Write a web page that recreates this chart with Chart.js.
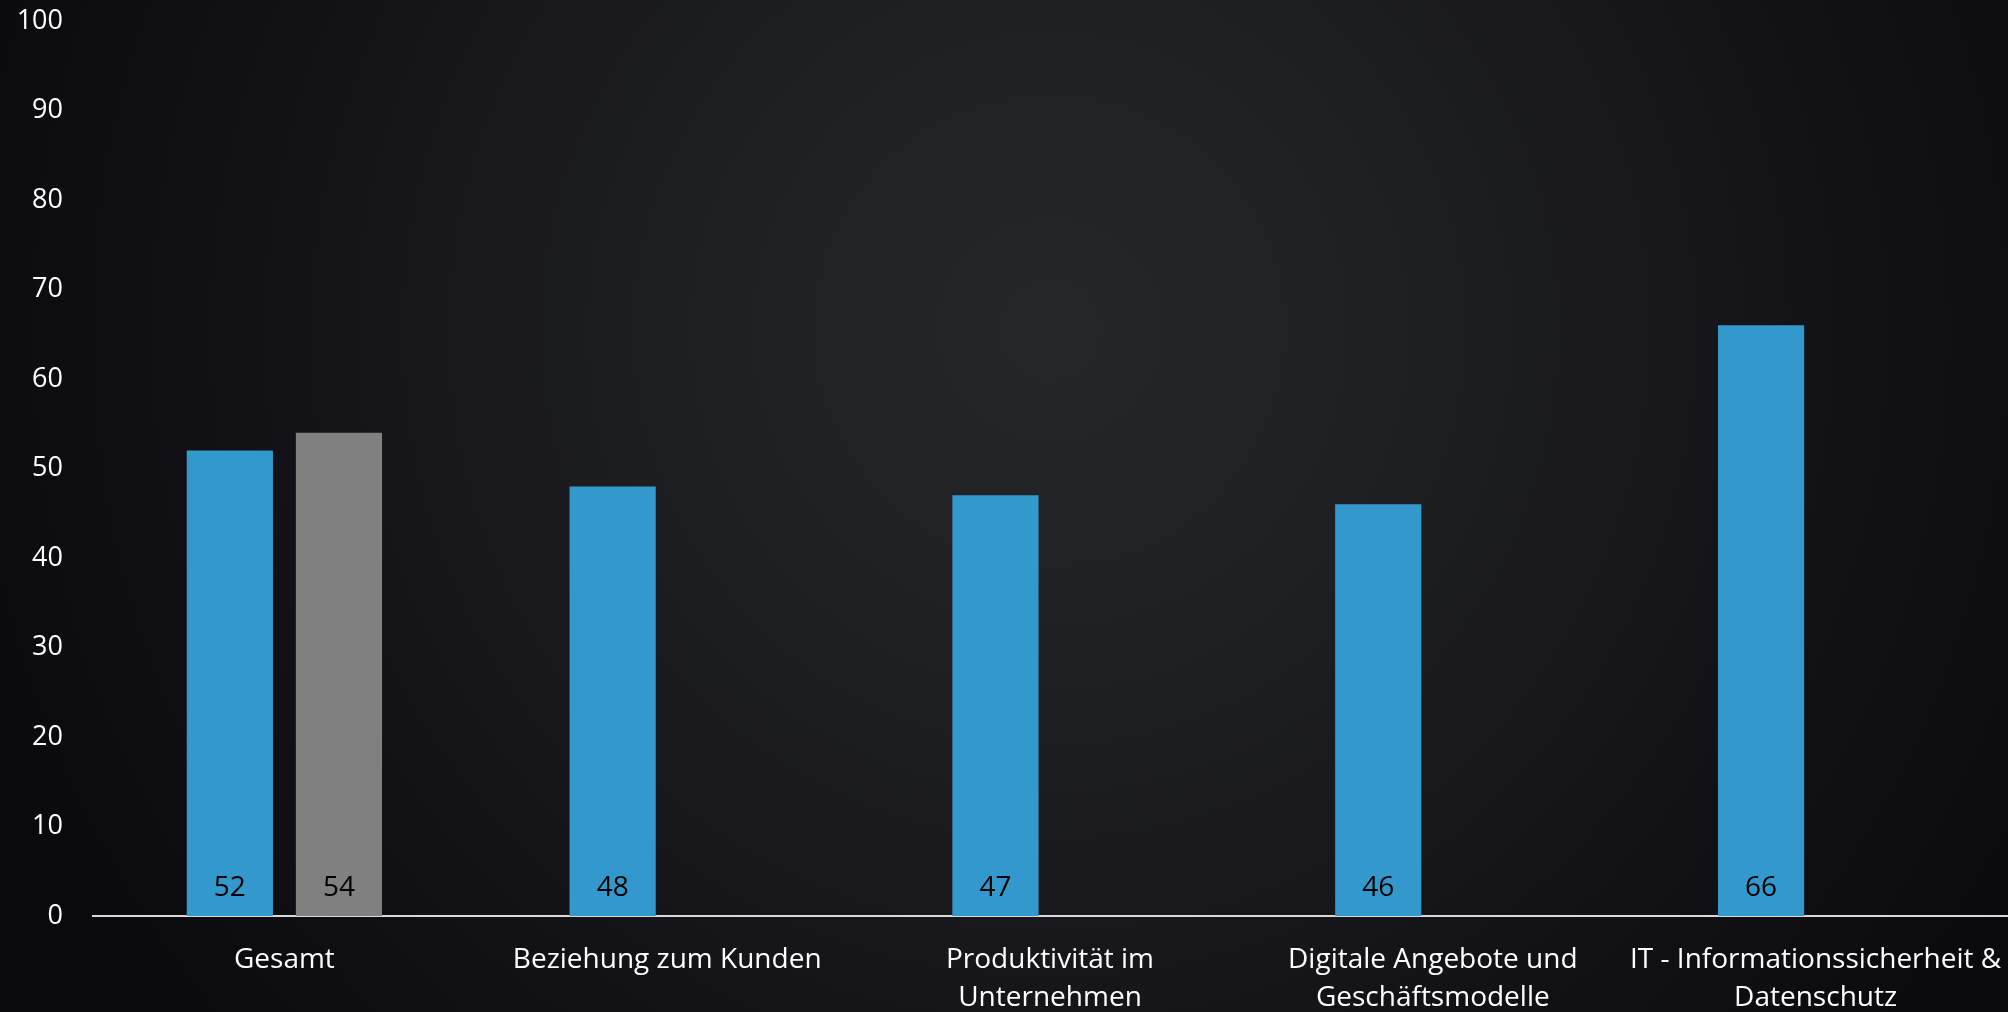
<!DOCTYPE html>
<html>
<head>
<meta charset="utf-8">
<script src="https://cdn.jsdelivr.net/npm/chart.js@4.4.1/dist/chart.umd.min.js"></script>
<style>
  html, body { margin: 0; padding: 0; background: #0b0b0f; }
  #c { display: block; }
</style>
</head>
<body>
<canvas id="c" width="2008" height="1012"></canvas>
<script>
const categories = [
  ["Gesamt"],
  ["Beziehung zum Kunden"],
  ["Produktivität im", "Unternehmen"],
  ["Digitale Angebote und", "Geschäftsmodelle"],
  ["IT - Informationssicherheit &", "Datenschutz"]
];
const seriesBlue = [52, 48, 47, 46, 66];
const seriesGrey = [54, null, null, null, null];
const yMin = 0;
const yMax = 100;
const yStep = 10;

const FONT = "'Open Sans', 'DejaVu Sans', sans-serif";

const bgPlugin = {
  id: 'bg',
  beforeDraw(chart) {
    const ctx = chart.ctx;
    const w = chart.width, h = chart.height;
    ctx.save();
    const g = ctx.createRadialGradient(1050, 330, 0, 1050, 330, 1150);
    g.addColorStop(0, '#26272b');
    g.addColorStop(0.35, '#1d1e22');
    g.addColorStop(0.7, '#121216');
    g.addColorStop(1, '#0a0a0e');
    ctx.fillStyle = g;
    ctx.fillRect(0, 0, w, h);
    ctx.restore();
  }
};

const valueLabels = {
  id: 'valueLabels',
  afterDatasetsDraw(chart) {
    const ctx = chart.ctx;
    const yScale = chart.scales.y;
    const base = yScale.getPixelForValue(0);
    ctx.save();
    ctx.font = '28px ' + FONT;
    ctx.fillStyle = '#000000';
    ctx.textAlign = 'center';
    ctx.textBaseline = 'middle';
    chart.data.datasets.forEach((ds, di) => {
      const meta = chart.getDatasetMeta(di);
      meta.data.forEach((el, i) => {
        const v = ds.data[i];
        if (v === null || v === undefined) return;
        ctx.fillText(String(v), el.x, base - 28);
      });
    });
    ctx.restore();
  }
};

new Chart(document.getElementById('c'), {
  type: 'bar',
  data: {
    labels: categories,
    datasets: [
      {
        label: 'A',
        data: seriesBlue,
        backgroundColor: '#3399cc',
        categoryPercentage: 0.57,
        barPercentage: 0.79
      },
      {
        label: 'B',
        data: seriesGrey,
        backgroundColor: '#808080',
        categoryPercentage: 0.57,
        barPercentage: 0.79
      }
    ]
  },
  options: {
    responsive: false,
    animation: false,
    devicePixelRatio: 1,
    layout: { padding: { top: 21, right: 1, left: 0, bottom: 0 } },
    plugins: {
      legend: { display: false },
      tooltip: { enabled: false }
    },
    scales: {
      x: {
        grid: { display: false, drawTicks: false },
        border: { display: true, color: '#d9d9d9', width: 2 },
        ticks: {
          color: '#ffffff',
          font: { family: FONT, size: 28, lineHeight: 1.35 },
          padding: 25,
          maxRotation: 0,
          autoSkip: false
        },
        afterFit(scale) {
          scale.height = 96;
          scale.paddingLeft = 0;
          scale.paddingRight = 0;
        }
      },
      y: {
        min: yMin,
        max: yMax,
        grid: { display: false, drawTicks: false },
        border: { display: false },
        ticks: {
          stepSize: yStep,
          color: '#ffffff',
          font: { family: FONT, size: 27 },
          padding: 30
        },
        afterFit(scale) {
          scale.width = 93;
          scale.paddingTop = 16;
          scale.paddingBottom = 16;
        }
      }
    }
  },
  plugins: [bgPlugin, valueLabels]
});
</script>
</body>
</html>
